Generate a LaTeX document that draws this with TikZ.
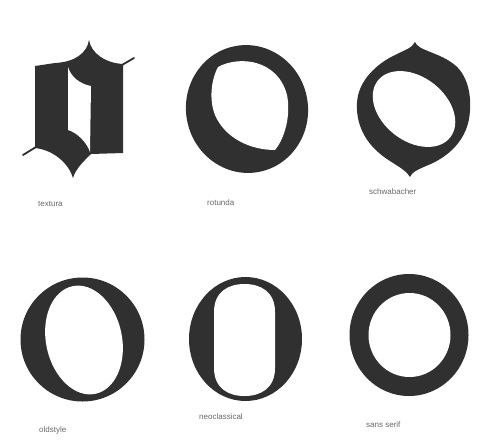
\documentclass[tikz,border=0pt]{standalone}
\usepackage{fontspec}
\setmainfont{Liberation Sans}
\definecolor{InkClr}{RGB}{48,48,48}
\definecolor{LabelClr}{RGB}{105,105,105}

\begin{document}
\begin{tikzpicture}[x=1pt,y=-1pt,
  glyph/.style={fill=InkClr},
  counter/.style={fill=white},
  hair/.style={draw=InkClr,line width=1.8pt,line cap=round},
  caption/.style={anchor=west,inner sep=0pt,text=LabelClr,font=\fontsize{8}{9}\selectfont}]
\fill[white] (0,0) rectangle (481,440);
\useasboundingbox (0,0) rectangle (481,440);

% textura
\coordinate (TxR1) at (122,65);
\coordinate (TxR2) at (134,58);
\coordinate (TxL1) at (36,147);
\coordinate (TxL2) at (23,155);
\fill[glyph] (35,66) -- (55,63) .. controls (75,62) and (87,53) .. (89,40)
  .. controls (91,53) and (105,63) .. (123,64) -- (123,153) -- (91,154)
  .. controls (84,161) and (76,168) .. (73,178)
  .. controls (69,164) and (54,150) .. (35,148) -- cycle;
\fill[counter] (68,67) -- (68,130) .. controls (78,133) and (87,143) .. (90,152)
  -- (91,86) .. controls (80,84) and (71,77) .. (68,67) -- cycle;
\draw[hair] (TxR1) -- (TxR2);
\draw[hair] (TxL1) -- (TxL2);

% rotunda
\fill[glyph,rotate around={10:(247,109)}] (247,109) ellipse [x radius=61,y radius=64];
\fill[counter] (218,67) .. controls (240,55) and (278,60) .. (287,95)
  .. controls (291,115) and (285,138) .. (275,150)
  .. controls (250,150) and (225,138) .. (215,115)
  .. controls (209,100) and (211,80) .. (218,67) -- cycle;

% schwabacher
\fill[glyph] (415,42) .. controls (418,51) and (440,52) .. (456,66)
  .. controls (468,77) and (471,95) .. (470,110)
  .. controls (469,140) and (447,158) .. (426,166)
  .. controls (417,170) and (412,172) .. (410,177)
  .. controls (405,168) and (390,163) .. (378,152)
  .. controls (362,138) and (356,120) .. (357,103)
  .. controls (358,80) and (378,63) .. (395,55)
  .. controls (405,50) and (412,48) .. (415,42) -- cycle;
\fill[counter,rotate around={-38:(414,109)}] (414,109) ellipse [x radius=46,y radius=32];

% oldstyle
\fill[glyph] (82.5,339.5) ellipse [x radius=62,y radius=62];
\fill[counter,rotate around={12:(84,340)}] (84,340) ellipse [x radius=38,y radius=55];

% neoclassical
\fill[glyph] (245.5,339) ellipse [x radius=56.5,y radius=62];
\fill[counter] (214,312) -- (214,368) .. controls (214,388) and (228,396) .. (244.5,396)
  .. controls (261,396) and (275,388) .. (275,368) -- (275,312)
  .. controls (275,292) and (261,284) .. (244.5,284)
  .. controls (228,284) and (214,292) .. (214,312) -- cycle;

% sans serif
\fill[glyph] (409,335) ellipse [x radius=59.5,y radius=61];
\fill[counter] (409.5,335) ellipse [x radius=41,y radius=42];

\node[caption] (lblTextura) at (38,204) {textura};
\node[caption] (lblRotunda) at (207,203) {rotunda};
\node[caption] (lblSchwab) at (369,192) {schwabacher};
\node[caption] (lblOld) at (39,430) {oldstyle};
\node[caption] (lblNeo) at (199,417) {neoclassical};
\node[caption] (lblSans) at (366,425) {sans serif};
\end{tikzpicture}
\end{document}
